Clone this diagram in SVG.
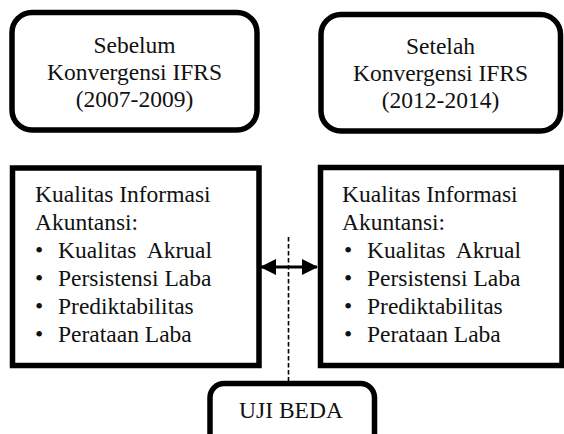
<svg xmlns="http://www.w3.org/2000/svg" width="564" height="434" viewBox="0 0 564 434">
<style>
  .box { fill: #fff; stroke: #000; stroke-width: 5.5; }
  .t { font-size: 23.5px; fill: #111; }
  .c { text-anchor: middle; }
</style>
<defs>
  <marker id="ah" viewBox="0 0 16 16" refX="15" refY="8" markerWidth="16" markerHeight="16" markerUnits="userSpaceOnUse" orient="auto-start-reverse">
    <path d="M0,0 L16,8 L0,16 Z" fill="#000"/>
  </marker>
</defs>
<rect width="564" height="434" fill="#fff"/>
<g id="connectors">
  <line x1="288.5" y1="237" x2="288.5" y2="381" stroke="#000" stroke-width="1.6" stroke-dasharray="4.5,2.5"/>
  <line x1="261" y1="267" x2="317" y2="267" stroke="#000" stroke-width="3" marker-start="url(#ah)" marker-end="url(#ah)"/>
</g>
<g font-family="'Liberation Serif', 'Times New Roman', 'DejaVu Serif', serif">
<g id="sebelum">
  <rect class="box" x="12" y="12.5" width="245" height="117.5" rx="20" ry="20"/>
  <text class="t c" x="134.5" y="53">Sebelum</text>
  <text class="t c" x="134.5" y="80">Konvergensi IFRS</text>
  <text class="t c" x="134.5" y="107">(2007-2009)</text>
</g>
<g id="setelah">
  <rect class="box" x="321" y="14.5" width="239.5" height="116.5" rx="20" ry="20"/>
  <text class="t c" x="440.5" y="54">Setelah</text>
  <text class="t c" x="440.5" y="81">Konvergensi IFRS</text>
  <text class="t c" x="440.5" y="108">(2012-2014)</text>
</g>
<g id="kualitas-kiri">
  <rect class="box" x="12.5" y="168" width="246.5" height="197.5"/>
  <text class="t" x="35" y="202">Kualitas Informasi</text>
  <text class="t" x="35" y="230">Akuntansi:</text>
  <text class="t" x="35" y="258">•</text><text class="t" x="58" y="258" xml:space="preserve">Kualitas  Akrual</text>
  <text class="t" x="35" y="286">•</text><text class="t" x="58" y="286">Persistensi Laba</text>
  <text class="t" x="35" y="314">•</text><text class="t" x="58" y="314">Prediktabilitas</text>
  <text class="t" x="35" y="342">•</text><text class="t" x="58" y="342">Perataan Laba</text>
</g>
<g id="kualitas-kanan">
  <rect class="box" x="320.5" y="167.5" width="241.5" height="198"/>
  <text class="t" x="342" y="202">Kualitas Informasi</text>
  <text class="t" x="342" y="230">Akuntansi:</text>
  <text class="t" x="344" y="258">•</text><text class="t" x="367" y="258" xml:space="preserve">Kualitas  Akrual</text>
  <text class="t" x="344" y="286">•</text><text class="t" x="367" y="286">Persistensi Laba</text>
  <text class="t" x="344" y="314">•</text><text class="t" x="367" y="314">Prediktabilitas</text>
  <text class="t" x="344" y="342">•</text><text class="t" x="367" y="342">Perataan Laba</text>
</g>
<g id="uji-beda">
  <rect class="box" x="210" y="383.5" width="164.5" height="70" rx="14" ry="14"/>
  <text class="t c" x="291" y="418">UJI BEDA</text>
</g>
</g>
</svg>
